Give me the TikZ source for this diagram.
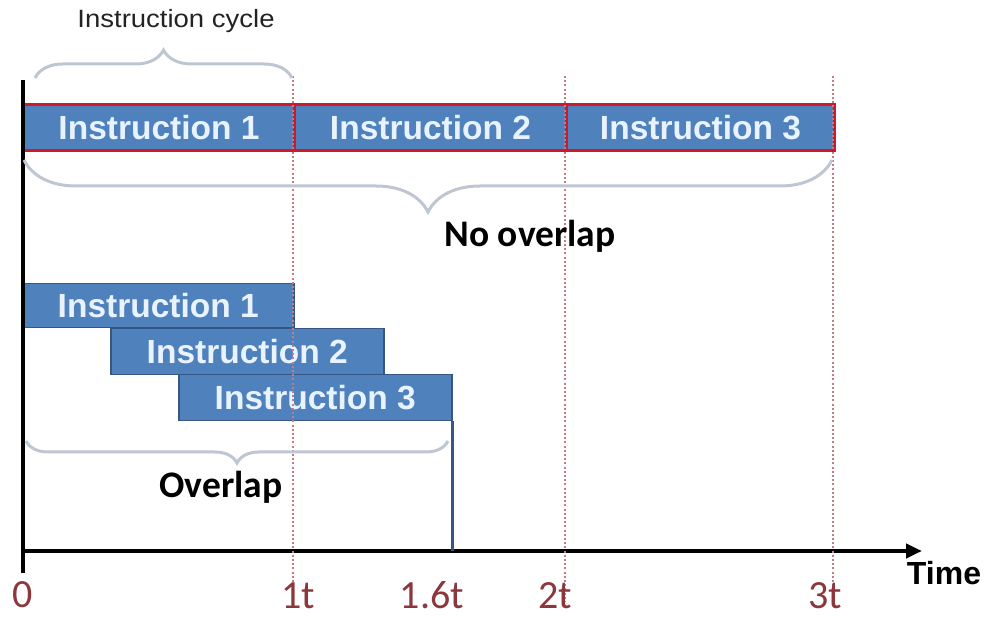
\documentclass[tikz,border=0pt]{standalone}
\usepackage{fontspec}
\setmainfont{Liberation Sans}
\newfontfamily\carl{Carlito}
\usetikzlibrary{decorations.pathreplacing,arrows.meta}
\definecolor{boxblue}{RGB}{79,129,189}
\definecolor{boxred}{RGB}{205,25,40}
\definecolor{edgeblue}{RGB}{56,86,128}
\definecolor{bracegrey}{RGB}{190,198,210}
\definecolor{dotcol}{RGB}{195,125,135}
\definecolor{labred}{RGB}{140,55,60}
\definecolor{txtlight}{RGB}{232,243,255}
\definecolor{darktxt}{RGB}{35,35,35}
\begin{document}
\begin{tikzpicture}[x=1pt,y=-1pt,
  topbox/.style={draw=boxred, line width=3pt, fill=boxblue, anchor=north west, inner sep=0pt,
    text=txtlight, font=\fontsize{33.5}{40}\selectfont\bfseries},
  rowbox/.style={draw=edgeblue, line width=1.5pt, fill=boxblue, anchor=north west, inner sep=0pt,
    text=txtlight, font=\fontsize{33.5}{40}\selectfont\bfseries},
  bracestyle/.style={draw=bracegrey, line width=3pt, decorate},
  guide/.style={draw=dotcol, line width=2pt, dash pattern=on 2pt off 2.2pt},
  ticklab/.style={text=labred, font=\carl\fontsize{40}{48}\selectfont, anchor=base, inner sep=0pt},
  boldlab/.style={text=black, font=\carl\bfseries\fontsize{37.5}{44}\selectfont, anchor=base, inner sep=0pt},
  axis/.style={line width=4.5pt, draw=black}
]
\useasboundingbox (0,0) rectangle (986,617);

% top row (no overlap)
\node[topbox, minimum width=271pt, minimum height=46pt] (t1) at (22,103) {Instruction 1};
\node[topbox, minimum width=272pt, minimum height=46pt] (t2) at (293,103) {Instruction 2};
\node[topbox, minimum width=268pt, minimum height=46pt] (t3) at (565,103) {Instruction 3};

% overlapping rows
\node[rowbox, minimum width=271pt, minimum height=44pt] (r1) at (22,283) {Instruction 1};
\node[rowbox, minimum width=273pt, minimum height=46pt] (r2) at (110,328) {Instruction 2};
\node[rowbox, minimum width=273pt, minimum height=46pt] (r3) at (178,374) {Instruction 3};

% axes
\coordinate (ytop) at (23,80);
\coordinate (ybot) at (23,573);
\coordinate (xstart) at (23,551);
\coordinate (xend) at (922,551);
\draw[axis] (ytop) -- (ybot);
\draw[axis, -{Triangle[length=16pt,width=14pt]}] (xstart) -- (xend);

% 1.6t marker
\draw[edgeblue, line width=2.5pt] (r3.south east) -- (r3.south east |- xstart);

% guides
\coordinate (g1a) at (293,76); \coordinate (g1b) at (293,598);
\coordinate (g2a) at (565,76); \coordinate (g2b) at (565,602);
\coordinate (g3a) at (833,76); \coordinate (g3b) at (833,606);
\draw[guide] (g1a) -- (g1b);
\draw[guide] (g2a) -- (g2b);
\draw[guide] (g3a) -- (g3b);

% braces
\coordinate (b1a) at (35,78); \coordinate (b1b) at (292,78);
\draw[bracestyle, decoration={brace, amplitude=28pt}] (b1a) -- (b1b);
\coordinate (b2a) at (24,160); \coordinate (b2b) at (832,160);
\draw[bracestyle, decoration={brace, mirror, amplitude=52pt}] (b2a) -- (b2b);
\coordinate (b3a) at (26,441); \coordinate (b3b) at (448,441);
\draw[bracestyle, decoration={brace, mirror, amplitude=22pt}] (b3a) -- (b3b);

% labels
\node[text=darktxt, font=\fontsize{25}{30}\selectfont, anchor=base, inner sep=0pt] (cyc) at (176,28) {\scalebox{1.1}[1]{Instruction cycle}};
\node[boldlab] (nov) at (530,247) {No overlap};
\node[boldlab] (ovl) at (221,498) {Overlap};
\node[text=black, font=\fontsize{32}{38}\selectfont\bfseries, anchor=base, inner sep=0pt] (time) at (944,584) {Time};

\node[ticklab] (l0) at (23,607) {0};
\node[ticklab] (l1) at (298,608) {1t};
\node[ticklab] (l16) at (432,608) {1.6t};
\node[ticklab] (l2) at (555,608) {2t};
\node[ticklab] (l3) at (825,608) {3t};
\end{tikzpicture}
\end{document}
